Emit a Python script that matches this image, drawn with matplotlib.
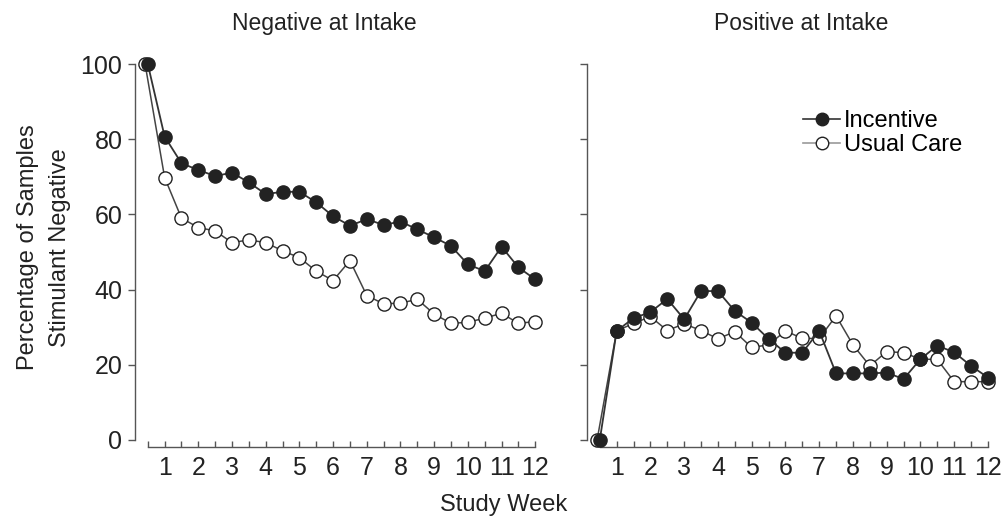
import matplotlib
matplotlib.use("Agg")
import matplotlib.pyplot as plt
from matplotlib.lines import Line2D

plt.rcParams["font.family"] = ["Liberation Sans", "DejaVu Sans"]

# study weeks (half-week steps); usual care first point drawn a touch left
weeks = [0.5, 1, 1.5, 2, 2.5, 3, 3.5, 4, 4.5, 5, 5.5, 6,
         6.5, 7, 7.5, 8, 8.5, 9, 9.5, 10, 10.5, 11, 11.5, 12]
weeks_usual = [0.42] + weeks[1:]

neg_incentive = [100, 80.7, 73.6, 71.8, 70.2, 71.1, 68.5, 65.4, 66.0, 66.0, 63.2, 59.5,
                 57.0, 58.7, 57.2, 58.1, 56.0, 53.9, 51.6, 46.7, 44.9, 51.4, 45.9, 42.7]
neg_usual = [100, 69.8, 59.0, 56.5, 55.6, 52.5, 53.2, 52.5, 50.3, 48.5, 44.9, 42.4,
             47.7, 38.4, 36.2, 36.4, 37.4, 33.5, 31.0, 31.3, 32.4, 33.7, 31.0, 31.5]

pos_incentive = [0, 29.0, 32.4, 34.0, 37.5, 32.1, 39.6, 39.6, 34.3, 31.2, 26.9, 23.2,
                 23.2, 29.0, 17.7, 17.7, 17.7, 17.9, 16.2, 21.5, 25.1, 23.3, 19.7, 16.6]
pos_usual = [0, 29.0, 31.0, 32.8, 29.1, 30.9, 29.1, 26.9, 28.8, 24.6, 25.3, 29.0,
             27.0, 27.0, 33.0, 25.3, 19.7, 23.5, 23.2, 21.5, 21.4, 15.5, 15.5, 15.5]

titles = ["Negative at Intake", "Positive at Intake"]
major_ticks = list(range(1, 13))
yticks = [0, 20, 40, 60, 80, 100]

AX_GRAY = "#555555"
FILL = "#222222"
TXT = "#222222"

fig = plt.figure(figsize=(10.08, 5.21), dpi=100)
ax1 = fig.add_axes([0.1339, 0.1426, 0.4038, 0.7562])
ax2 = fig.add_axes([0.5823, 0.1426, 0.4045, 0.7562])

panels = [(ax1, neg_incentive, neg_usual), (ax2, pos_incentive, pos_usual)]
for ax, inc, usu in panels:
    ax.plot(weeks_usual, usu, color="#444444", lw=1.1, marker="o", ms=9.5,
            mfc="white", mec="#222222", mew=1.0, clip_on=False, zorder=3)
    ax.plot(weeks, inc, color="#333333", lw=1.3, marker="o", ms=9.5,
            mfc=FILL, mec=FILL, clip_on=False, zorder=4)
    ax.set_xlim(0.12, 12.2)
    ax.set_ylim(-1.8, 103)
    for s in ("top", "right"):
        ax.spines[s].set_visible(False)
    for s in ("left", "bottom"):
        ax.spines[s].set_color(AX_GRAY)
        ax.spines[s].set_linewidth(1.0)
    ax.spines["bottom"].set_bounds(0.5, 12)
    ax.spines["left"].set_bounds(0, 100)
    ax.set_xticks(major_ticks)
    ax.set_xticks(weeks, minor=True)
    ax.set_yticks(yticks)
    ax.tick_params(axis="x", which="both", direction="in", length=4, width=1.0,
                   color=AX_GRAY, labelsize=18, pad=7, labelcolor=TXT)
    ax.tick_params(axis="y", direction="out", length=5, width=1.0,
                   color=AX_GRAY, labelsize=18, pad=4, labelcolor=TXT)

ax2.set_yticklabels([])

fig.text(0.322, 0.955, titles[0], ha="center", va="center", fontsize=16.5, color=TXT)
fig.text(0.795, 0.955, titles[1], ha="center", va="center", fontsize=16.5, color=TXT)
fig.text(0.5, 0.03, "Study Week", ha="center", va="center", fontsize=17, color=TXT)
fig.text(0.044, 0.525, "Percentage of Samples\nStimulant Negative", rotation=90,
         ha="center", va="center", fontsize=17, color=TXT, linespacing=1.6)

handles = [
    Line2D([], [], color="#333333", lw=1.2, marker="o", ms=9, mfc=FILL, mec=FILL),
    Line2D([], [], color="#999999", lw=1.2, marker="o", ms=9, mfc="white", mec="#222222"),
]
ax2.legend(handles, ["Incentive", "Usual Care"], loc="upper left",
           bbox_to_anchor=(0.5, 0.885), frameon=False, fontsize=17,
           handlelength=1.6, handletextpad=0.15, labelspacing=0.1, borderpad=0)

fig.savefig("out.png", dpi=100)
